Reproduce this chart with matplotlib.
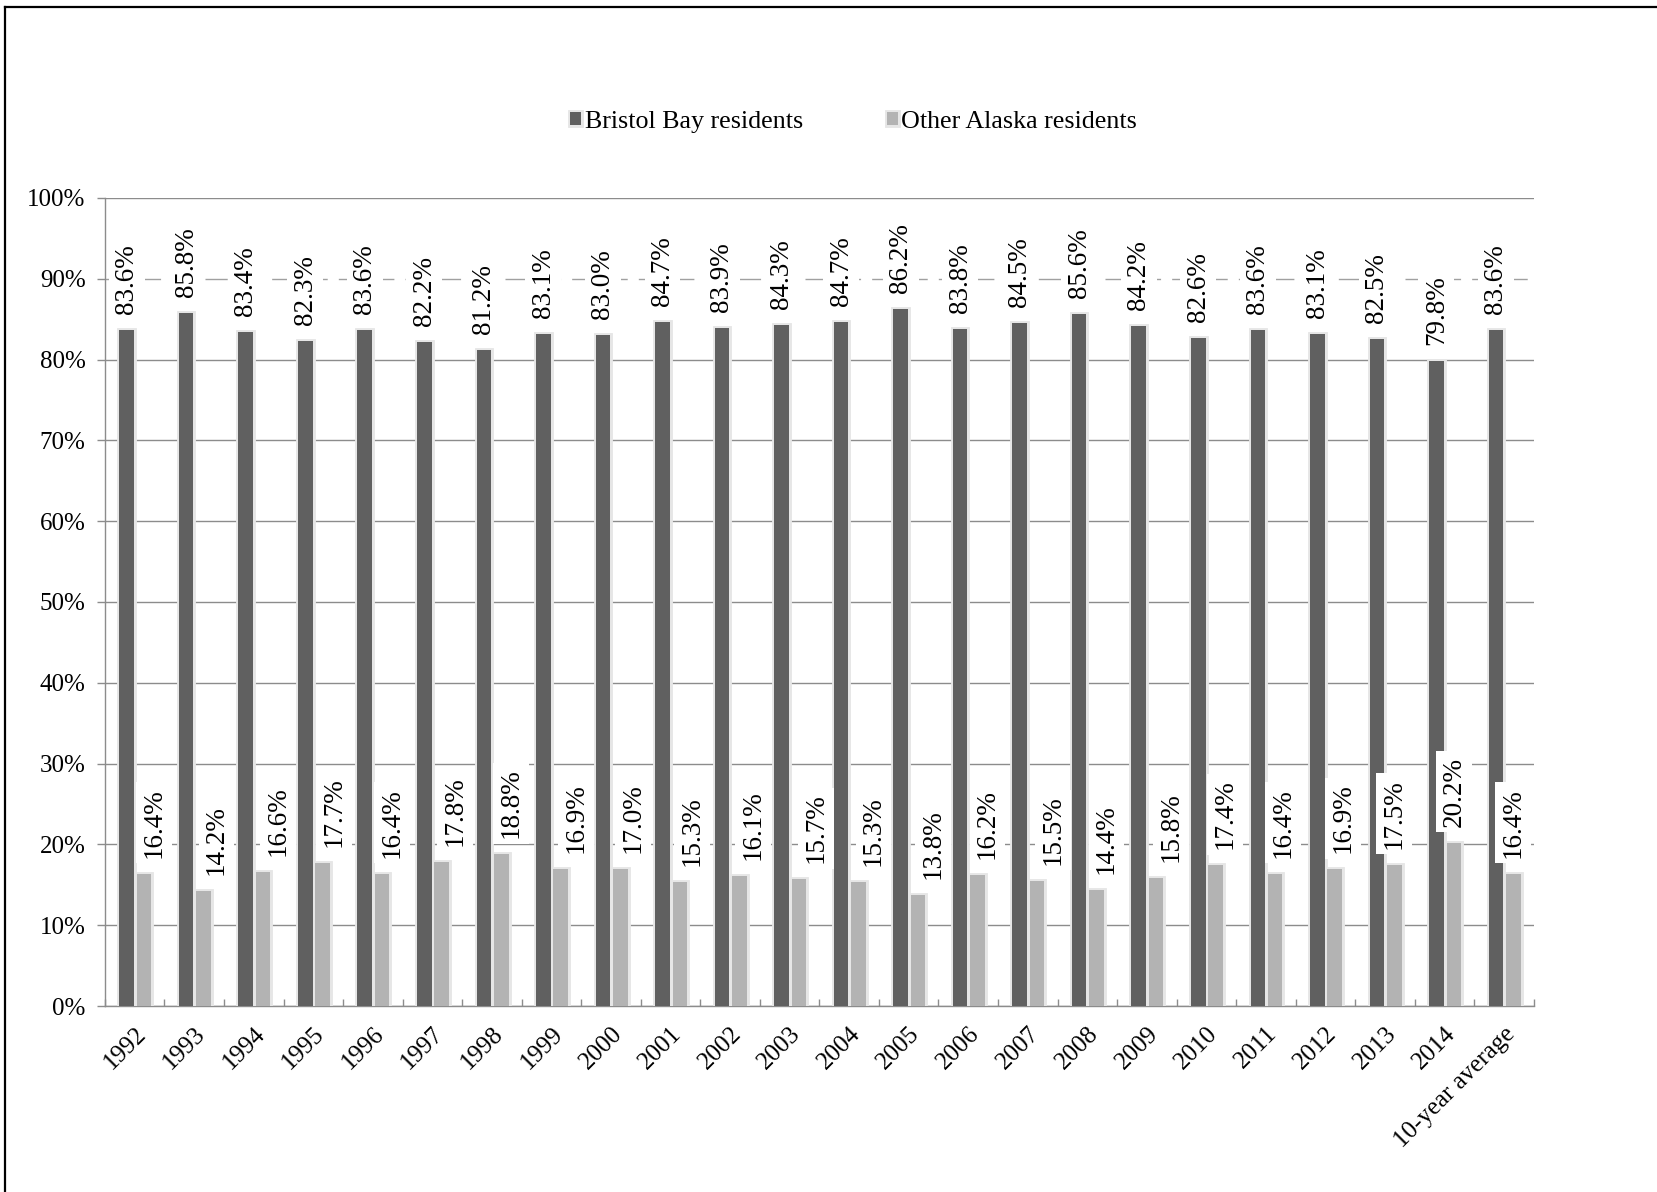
import matplotlib
matplotlib.use("Agg")
import matplotlib.pyplot as plt
import matplotlib.patheffects as pe
from matplotlib.lines import Line2D
from matplotlib.ticker import FixedLocator, FuncFormatter
import numpy as np

categories = ['1992', '1993', '1994', '1995', '1996', '1997', '1998', '1999', '2000',
              '2001', '2002', '2003', '2004', '2005', '2006', '2007', '2008', '2009',
              '2010', '2011', '2012', '2013', '2014', '10-year average']
bristol_bay = [83.6, 85.8, 83.4, 82.3, 83.6, 82.2, 81.2, 83.1, 83.0, 84.7, 83.9, 84.3,
               84.7, 86.2, 83.8, 84.5, 85.6, 84.2, 82.6, 83.6, 83.1, 82.5, 79.8, 83.6]
other_alaska = [16.4, 14.2, 16.6, 17.7, 16.4, 17.8, 18.8, 16.9, 17.0, 15.3, 16.1, 15.7,
                15.3, 13.8, 16.2, 15.5, 14.4, 15.8, 17.4, 16.4, 16.9, 17.5, 20.2, 16.4]
series_names = ['Bristol Bay residents', 'Other Alaska residents']

# layout only: horizontal shift (pixels) of the "Other Alaska" data labels
other_label_shift_px = [10, 13, 15, 11, 10, 13, 10, 15, 13, 12, 14, 17, 15, 15, 10, 16,
                        10, 15, 9, 8, 8, 0, 0, 0]

plt.rcParams['font.family'] = ['Liberation Serif', 'DejaVu Serif']

DPI = 100
fig = plt.figure(figsize=(16.58, 11.92), dpi=DPI)
ax = fig.add_axes([0.0633, 0.156, 0.8618, 0.678])

dark = '#606060'
light = '#b3b3b3'
grid_c = '#8c8c8c'
px = 72.0 / DPI

x = np.arange(len(categories))
w = 0.245
halo = [pe.Stroke(linewidth=3.5, foreground='#e6e6e6'), pe.Normal()]
b1 = ax.bar(x - 0.136, bristol_bay, width=w, color=dark, label=series_names[0], zorder=3)
b2 = ax.bar(x + 0.156, other_alaska, width=w, color=light, label=series_names[1], zorder=3)
for r in list(b1) + list(b2):
    r.set_path_effects(halo)

box = dict(boxstyle='square,pad=0.2', facecolor='white', edgecolor='none')
for i, v in enumerate(bristol_bay):
    ax.annotate(f'{v:.1f}%', xy=(x[i] - 0.136, v), xytext=(0, 16 * px),
                textcoords='offset points', rotation=90, ha='center', va='bottom',
                fontsize=19.5, bbox=box, zorder=5)
for i, v in enumerate(other_alaska):
    ax.annotate(f'{v:.1f}%', xy=(x[i] + 0.156, v),
                xytext=(other_label_shift_px[i] * px, 16 * px),
                textcoords='offset points', rotation=90, ha='center', va='bottom',
                fontsize=19.5, bbox=box, zorder=5)

ax.set_xlim(-0.5, len(categories) - 0.5)
ax.set_ylim(0, 100)
ax.yaxis.set_major_locator(FixedLocator(np.arange(0, 101, 10)))
ax.yaxis.set_major_formatter(FuncFormatter(lambda v, p: f'{int(round(v))}%'))
ax.tick_params(axis='y', direction='out', length=6, width=1,
               color=grid_c, labelsize=18, pad=8)

ax.set_xticks(x)
ax.set_xticklabels(categories, rotation=45, ha='right', rotation_mode='anchor',
                   fontsize=18)
ax.tick_params(axis='x', which='major', length=0, pad=12)
ax.set_xticks(np.arange(-0.5, len(categories), 1.0), minor=True)
ax.tick_params(axis='x', which='minor', direction='in', length=5, width=1, color=grid_c)

ax.set_axisbelow(True)
ax.yaxis.grid(True, color=grid_c, linewidth=1.0)
for i, gl in enumerate(ax.get_ygridlines()):
    if i == 9:
        gl.set_linestyle((0, (16, 8)))
        gl.set_color('#a0a0a0')

for s in ['top', 'right']:
    ax.spines[s].set_visible(False)
for s in ['left', 'bottom']:
    ax.spines[s].set_color(grid_c)
    ax.spines[s].set_linewidth(1.0)

fig.legend(handles=[b1, b2], labels=series_names, loc='center',
           bbox_to_anchor=(0.515, 0.898), ncol=2, frameon=False, fontsize=18.7,
           handlelength=0.42, handleheight=0.42, handletextpad=0.15,
           columnspacing=3.2)

# figure frame (left and top edges)
fig.add_artist(Line2D([0.003, 0.003], [0.0, 0.9945], transform=fig.transFigure,
                      color='black', linewidth=1.6))
fig.add_artist(Line2D([0.003, 1.0], [0.9945, 0.9945], transform=fig.transFigure,
                      color='black', linewidth=1.6))

fig.savefig('out.png', dpi=DPI, facecolor='white')
